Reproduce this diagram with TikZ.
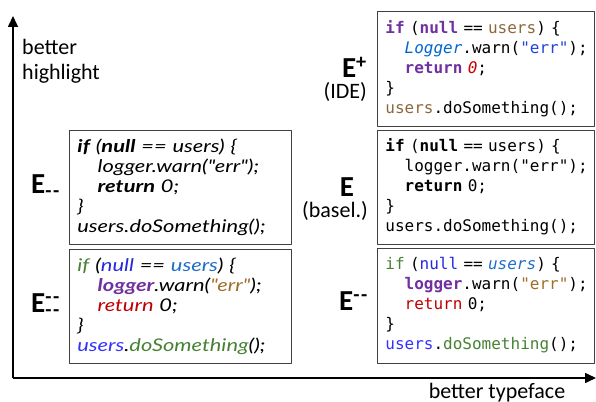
\documentclass[tikz,border=0pt]{standalone}
\usepackage{fontspec}
\setmainfont{Carlito}
\newfontfamily\codefont{DejaVu Sans Mono}
\newfontfamily\handfont[FakeStretch=1.25]{Lato}
\usetikzlibrary{arrows.meta,positioning}
\definecolor{kwpurple}{RGB}{112,48,160}
\definecolor{fldbrown}{RGB}{140,105,60}
\definecolor{clsblue}{RGB}{0,102,204}
\definecolor{strblue}{RGB}{30,70,220}
\definecolor{numred}{RGB}{200,0,0}
\definecolor{kwgreen}{RGB}{70,130,50}
\definecolor{nullblue}{RGB}{40,40,220}
\definecolor{varblue}{RGB}{30,110,200}
\definecolor{strbrown}{RGB}{160,110,40}
\definecolor{retred}{RGB}{192,0,0}
\definecolor{objblue}{RGB}{50,50,255}
\newcommand{\ind}{\phantom{xx}}
\newcommand{\dd}{-\kern1.5pt-}
\begin{document}
\begin{tikzpicture}[x=1pt,y=-1pt,>={Triangle[length=11pt,width=10pt]},line join=round,
	codebox/.style={draw=black!75,line width=0.8pt,anchor=north west,align=left,
		inner xsep=8pt,inner ysep=0pt},
	rightcode/.style={codebox,text width=201pt,minimum height=115pt,
		font=\codefont\fontsize{16}{20}\selectfont},
	leftcode/.style={codebox,text width=206pt,minimum height=114pt,
		font=\handfont\itshape\fontsize{17.5}{20}\selectfont},
	elabel/.style={font=\bfseries\fontsize{29}{30}\selectfont,inner sep=0pt},
	sublabel/.style={font=\fontsize{22}{24}\selectfont,inner sep=0pt},
	axislabel/.style={font=\fontsize{22}{25}\selectfont,inner sep=0pt,align=left}]
	\useasboundingbox (0,0) rectangle (596,401);
	% axes
	\coordinate (O) at (13,378);
	\coordinate (ytip) at (13,16);
	\coordinate (xtip) at (596,378);
	\draw[line width=1.6pt,->] (O) -- (ytip);
	\draw[line width=1.6pt,->] (O) -- (xtip);
	\node[axislabel,anchor=north west] (highlight) at (22,39) {better\\highlight};
	\node[axislabel,anchor=north] (typeface) at (497,383) {better typeface};
	% right column
	\node[rightcode] (ide) at (377,11) {%
		\textcolor{kwpurple}{\bfseries if} (\textcolor{kwpurple}{\bfseries null} == \textcolor{fldbrown}{users}) \{\\
		\ind\textcolor{clsblue}{\itshape Logger}.warn(\textcolor{strblue}{"err"});\\
		\ind\textcolor{kwpurple}{\bfseries return} \textcolor{numred}{\itshape 0};\\
		\}\\
		\textcolor{fldbrown}{users}.doSomething();};
	\node[rightcode,below=3pt of ide.south west,anchor=north west,minimum height=114pt] (basel) {%
		{\bfseries if} ({\bfseries null} == users) \{\\
		\ind logger.warn("err");\\
		\ind{\bfseries return} 0;\\
		\}\\
		users.doSomething();};
	\node[rightcode,below=3pt of basel.south west,anchor=north west] (worse) {%
		\textcolor{kwgreen}{if} (\textcolor{nullblue}{null} == \textcolor{varblue}{\itshape users}) \{\\
		\ind\textcolor{kwpurple}{\bfseries logger}.warn(\textcolor{strbrown}{"err"});\\
		\ind\textcolor{retred}{return} 0;\\
		\}\\
		\textcolor{objblue}{users}.\textcolor{kwgreen}{doSomething}();};
	% left column
	\node[leftcode] (hand) at (69,130) {%
		{\bfseries if} ({\bfseries null} == users) \{\\
		\ind logger.warn("err");\\
		\ind{\bfseries return} 0;\\
		\}\\
		users.doSomething();};
	\node[leftcode,below=4pt of hand.south west,anchor=north west] (handcol) {%
		\textcolor{kwgreen}{if} (\textcolor{nullblue}{null} == \textcolor{varblue}{users}) \{\\
		\ind\textcolor{kwpurple}{\bfseries logger}.warn(\textcolor{strbrown}{"err"});\\
		\ind\textcolor{retred}{return} 0;\\
		\}\\
		\textcolor{objblue}{users}.\textcolor{kwgreen}{doSomething}();};
	% labels
	\node[elabel,anchor=east] (eplus) at (367,67) {E\textsuperscript{+}};
	\node[sublabel,anchor=east] (eplusname) at (367,92) {(IDE)};
	\node[elabel] (ebase) at (347,187) {E};
	\node[sublabel,anchor=east] (ebasename) at (368,211) {(basel.)};
	\node[elabel,anchor=west] (eminus) at (339,301) {E\textsuperscript{\dd}};
	\node[elabel,anchor=west] (ehand) at (31,186) {E\textsubscript{\dd}};
	\node[elabel,anchor=west] (ehandcol) at (31,305) {E\rlap{\textsuperscript{\dd}}\textsubscript{\dd}};
\end{tikzpicture}
\end{document}
